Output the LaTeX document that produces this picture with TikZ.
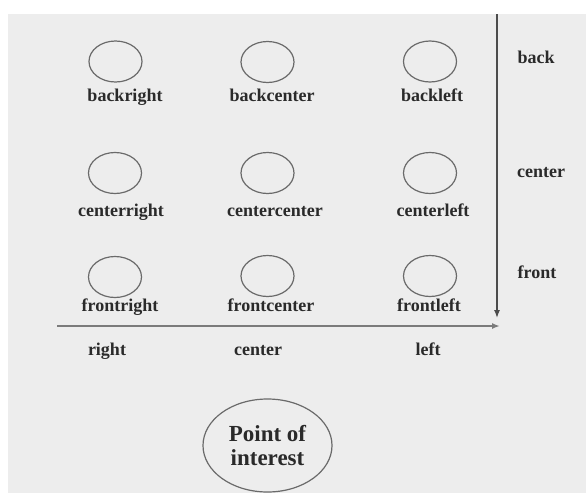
\documentclass[tikz,border=0pt]{standalone}
\usepackage{fontspec}
\setmainfont{Liberation Serif}
\usetikzlibrary{shapes.geometric,arrows.meta}
\definecolor{bg}{HTML}{EDEDED}
\definecolor{ink}{HTML}{2A2A2A}
\definecolor{edge}{HTML}{6A6A6A}
\definecolor{axis}{HTML}{5A5A5A}
\tikzset{
  spot/.style={ellipse, draw=edge, line width=1.2pt, minimum width=53pt, minimum height=41pt, inner sep=0pt},
  lbl/.style={text=ink, font=\bfseries\fontsize{18}{20}\selectfont, inner sep=0pt, anchor=center,
    text height=12.5pt, text depth=3.5pt},
  poi/.style={ellipse, draw=edge, line width=1.2pt, minimum width=129pt, minimum height=93pt, inner sep=0pt,
    text=ink, font=\bfseries\fontsize{23}{24}\selectfont, align=center},
  axisline/.style={draw=axis, line width=1.6pt, -{Latex[length=8pt,width=6pt]}}
}
\begin{document}
\begin{tikzpicture}[x=1pt,y=-1pt]
\useasboundingbox (0,0) rectangle (586,493);
\fill[bg] (8,14) rectangle (586,493);
% ellipses
\node[spot] (br) at (115.5,61.5) {};
\node[spot] (bc) at (267.5,62) {};
\node[spot] (bl) at (430,61.5) {};
\node[spot] (cr) at (115,173) {};
\node[spot] (cc) at (267.5,173) {};
\node[spot] (cl) at (430,173) {};
\node[spot] (fr) at (115,277) {};
\node[spot] (fc) at (267.5,276) {};
\node[spot] (fl) at (430,276) {};
% labels under ellipses
\node[lbl] (tbr) at (125,97) {backright};
\node[lbl] (tbc) at (272,97) {backcenter};
\node[lbl] (tbl) at (432,97) {backleft};
\node[lbl] (tcr) at (121,212) {centerright};
\node[lbl] (tcc) at (275,212) {centercenter};
\node[lbl] (tcl) at (433,212) {centerleft};
\node[lbl] (tfr) at (120,307) {frontright};
\node[lbl] (tfc) at (271,307) {frontcenter};
\node[lbl] (tfl) at (429,307) {frontleft};
% axes
\coordinate (vtop) at (497,14);
\coordinate (vend) at (497,318);
\coordinate (hstart) at (57,326);
\coordinate (hend) at (500,326);
\draw[axisline, draw=axis!85!black, line width=1.3pt] (vtop) -- (vend);
\draw[axisline, draw=axis!80!white] (hstart) -- (hend);
% axis labels
\node[lbl] (xr) at (107,351) {right};
\node[lbl] (xc) at (258,351) {center};
\node[lbl] (xl) at (428,351) {left};
\node[lbl] (yb) at (536,59) {back};
\node[lbl] (yc) at (541,173) {center};
\node[lbl] (yf) at (537,274) {front};
% point of interest
\node[poi] (poi) at (267.5,445.5) {Point of\\interest};
\end{tikzpicture}
\end{document}
